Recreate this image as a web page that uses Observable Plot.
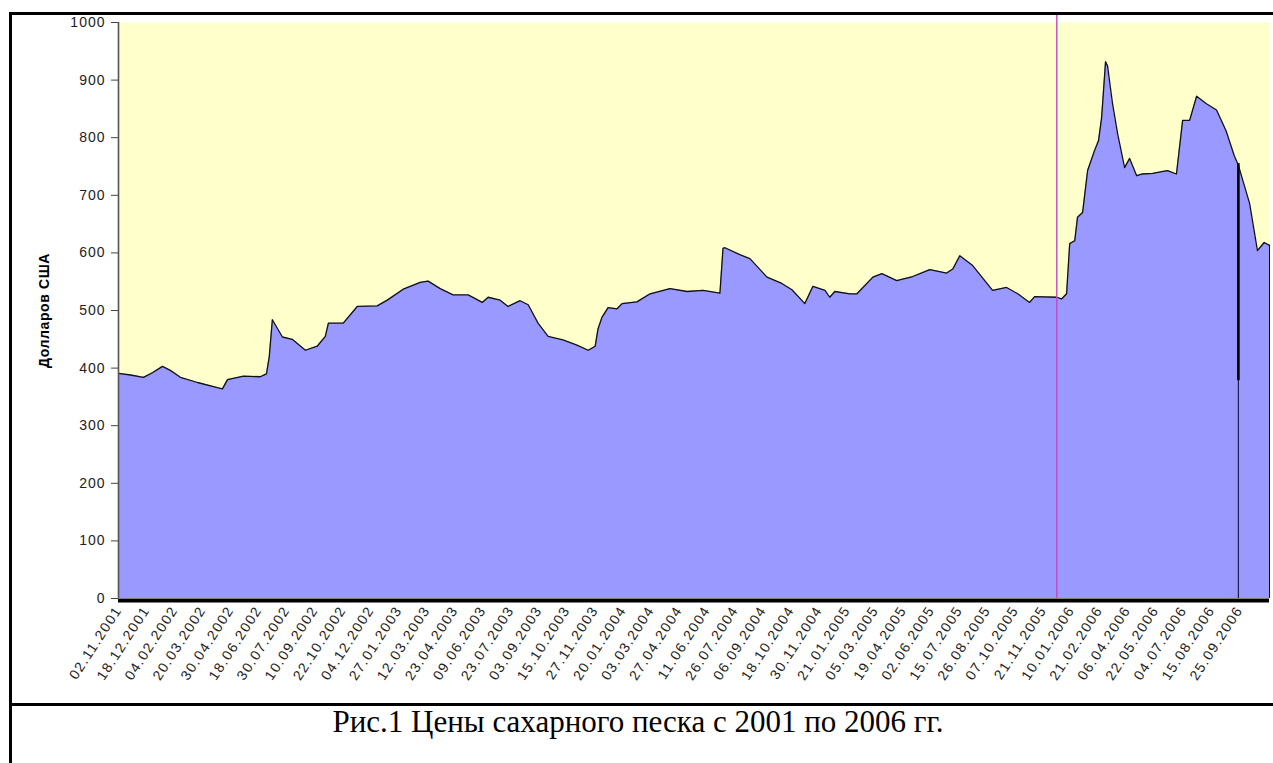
<!DOCTYPE html>
<html>
<head>
<meta charset="utf-8">
<script src="https://cdn.jsdelivr.net/npm/d3@7"></script>
<script src="https://cdn.jsdelivr.net/npm/@observablehq/plot@0.6"></script>
<style>
  html, body { margin: 0; padding: 0; background: #fff; }
  body { width: 1273px; height: 763px; overflow: hidden; position: relative; }
  #chart { position: absolute; left: 0; top: 0; }
  #border { position: absolute; left: 9px; top: 12px; width: 1300px; height: 800px;
            border-left: 3px solid #000; border-top: 3px solid #000; box-sizing: border-box; pointer-events: none; }
  #sep { position: absolute; left: 9px; top: 703px; width: 1300px; height: 3px; background: #000; }
  #caption { position: absolute; left: 0; width: 1276px; top: 705px; height: 34px; line-height: 34px;
             text-align: center; font-family: "Liberation Serif", "Times New Roman", serif; font-size: 31px; color: #000; }
</style>
</head>
<body>
<div id="chart"></div>
<div id="border"></div>
<div id="sep"></div>
<div id="caption">Рис.1 Цены сахарного песка с 2001 по 2006 гг.</div>
<script>
// Category tick labels (one per tick position 0..40)
const labels = [
  "02.11.2001","18.12.2001","04.02.2002","20.03.2002","30.04.2002","18.06.2002",
  "30.07.2002","10.09.2002","22.10.2002","04.12.2002","27.01.2003","12.03.2003",
  "23.04.2003","09.06.2003","23.07.2003","03.09.2003","15.10.2003","27.11.2003",
  "20.01.2004","03.03.2004","27.04.2004","11.06.2004","26.07.2004","06.09.2004",
  "18.10.2004","30.11.2004","21.01.2005","05.03.2005","19.04.2005","02.06.2005",
  "15.07.2005","26.08.2005","07.10.2005","21.11.2005","10.01.2006","21.02.2006",
  "06.04.2006","22.05.2006","04.07.2006","15.08.2006","25.09.2006"
];
// Position of each reading along the category axis (in label-interval units)
const pos = [
  0, 0.43, 0.89, 1.21, 1.57, 1.85, 2.21, 2.82, 3.53, 3.71, 3.89, 4.46, 5.06, 5.28, 5.38, 5.49,
  5.85, 6.20, 6.67, 7.09, 7.38, 7.49, 8.02, 8.52, 9.23, 9.59, 10.16, 10.77, 11.05, 11.48, 11.94,
  12.48, 12.98, 13.19, 13.62, 13.90, 14.33, 14.62, 14.97, 15.33, 15.86, 16.36, 16.76, 17.01,
  17.11, 17.25, 17.47, 17.79, 17.97, 18.50, 18.97, 19.68, 20.29, 20.86, 21.46, 21.57, 21.64,
  22.17, 22.53, 23.14, 23.67, 24.03, 24.49, 24.78, 25.21, 25.38, 25.56, 26.10, 26.35, 26.92,
  27.24, 27.77, 28.34, 28.95, 29.55, 29.77, 30.02, 30.48, 30.91, 31.19, 31.69, 32.09, 32.51,
  32.69, 33.48, 33.65, 33.83, 33.94, 34.12, 34.22, 34.40, 34.58, 34.83, 34.97, 35.08, 35.22,
  35.29, 35.47, 35.65, 35.90, 36.08, 36.33, 36.54, 36.90, 37.43, 37.75, 37.97, 38.22, 38.47,
  38.82, 39.18, 39.52, 39.81, 39.96, 40.36, 40.64, 40.88, 41.07
];
// Sugar price, USD
const price = [
  391, 388, 384, 392, 403, 396, 384, 375, 366, 364, 380, 386, 385, 390, 420, 484,
  454, 450, 431, 438, 455, 478, 478, 507, 508, 518, 537, 549, 551, 538, 527,
  527, 514, 523, 518, 507, 517, 510, 478, 455, 449, 440, 431, 438,
  468, 488, 505, 503, 512, 515, 529, 538, 533, 535, 530, 608, 609,
  597, 590, 558, 547, 536, 512, 542, 535, 523, 533, 529, 529, 558,
  564, 552, 559, 571, 565, 572, 595, 578, 552, 535, 540, 529, 514,
  524, 523, 520, 529, 616, 621, 662, 670, 743, 778, 795, 835, 932,
  925, 859, 807, 748, 764, 734, 737, 738, 743, 737, 830, 830, 872,
  859, 848, 812, 769, 752, 686, 604, 618, 613
];
const yTicks = [0, 100, 200, 300, 400, 500, 600, 700, 800, 900, 1000];
// Annotation lines (category position, value extents)
const magentaPos = 33.48;
const blackPos = 39.96;
const blackLow = 378;
const blackHigh = 755;

const data = pos.map((p, i) => ({p, v: price[i]}));
const last = data[data.length - 1];

const chart = Plot.plot({
  width: 1273,
  height: 700,
  marginTop: 22,
  marginBottom: 102,
  marginLeft: 118,
  marginRight: 4,
  style: {fontFamily: "'Liberation Sans', Arial, sans-serif", background: "transparent", overflow: "visible"},
  x: {domain: [0, 41.07], axis: null},
  y: {domain: [0, 1000], axis: null},
  marks: [
    Plot.frame({fill: "#FFFFCC", stroke: "none"}),
    Plot.areaY(data, {x: "p", y: "v", fill: "#9999FF"}),
    Plot.lineY(data, {x: "p", y: "v", stroke: "#111", strokeWidth: 1.3}),
    Plot.ruleX([last], {x: "p", y1: 0, y2: "v", stroke: "#111", strokeWidth: 1}),
    Plot.ruleX([magentaPos], {y1: 0, y2: 1014, stroke: "#C04CC0", strokeWidth: 1.4}),
    Plot.ruleX([blackPos], {y1: 0, y2: blackLow, stroke: "#1a1a50", strokeWidth: 1.2}),
    Plot.ruleX([blackPos], {y1: blackLow, y2: blackHigh, stroke: "#000", strokeWidth: 2.6}),
    Plot.ruleX([0], {y1: 0, y2: 1000, stroke: "#555", strokeWidth: 1.6}),
    Plot.ruleY([0], {stroke: "#000", strokeWidth: 4, dy: 2}),
    Plot.axisY({ticks: yTicks, tickFormat: d => String(d), label: null, tickSize: 7, tickPadding: 6,
                fontSize: 14, color: "#222", stroke: "#444"}),
    Plot.axisX({ticks: d3.range(labels.length), tickFormat: i => labels[i], label: null, tickRotate: -57,
                tickSize: 0, tickPadding: 9, fontSize: 14, color: "#222"}),
    Plot.text(["Долларов США"], {frameAnchor: "left", rotate: -90, dx: -74, textAnchor: "middle",
                fontWeight: "bold", fontSize: 14, fill: "#000"})
  ]
});
document.getElementById("chart").appendChild(chart);
d3.select(chart).selectAll("g[aria-label='y-axis tick label'] text").style("letter-spacing", "1px");
d3.select(chart).selectAll("g[aria-label='x-axis tick label'] text").style("letter-spacing", "1.5px");
d3.select(chart).selectAll("g[aria-label='text'] text").style("letter-spacing", "0.6px");
</script>
</body>
</html>
